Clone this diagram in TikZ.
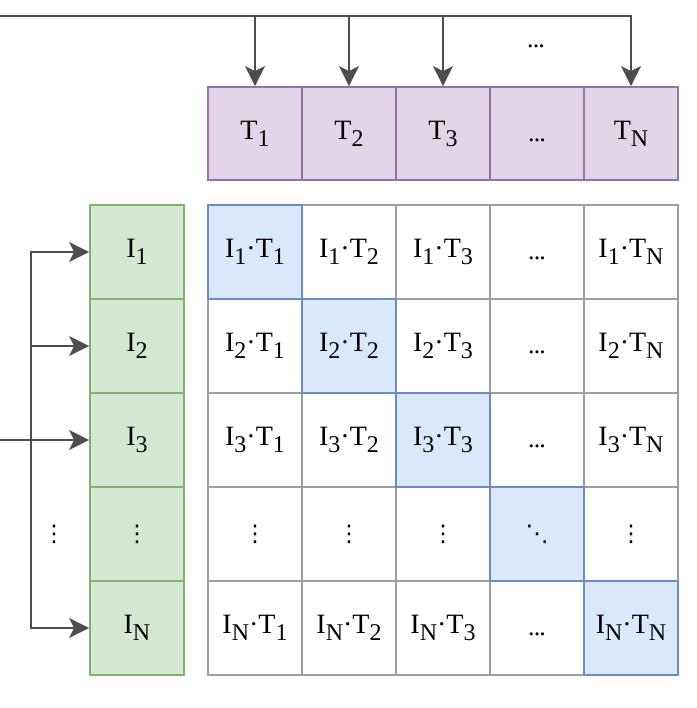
\documentclass[tikz,border=0pt]{standalone}
\usepackage{fontspec}
\setmainfont{Liberation Serif}
\newfontfamily\dotsfont{DejaVu Sans}
\usetikzlibrary{arrows.meta}
\definecolor{pfill}{HTML}{E1D5E7}
\definecolor{pline}{HTML}{9673A6}
\definecolor{gfill}{HTML}{D5E8D4}
\definecolor{gline}{HTML}{82B366}
\definecolor{bfill}{HTML}{DAE8FC}
\definecolor{bline}{HTML}{6C8EBF}
\definecolor{cline}{HTML}{9E9E9E}
\definecolor{aline}{HTML}{4D4D4D}
\newcommand{\sbs}[1]{\raisebox{-0.25em}{\fontsize{24}{26}\selectfont #1}}
\newcommand{\pr}[2]{I\sbs{#1}·T\sbs{#2}}
\newcommand{\threedots}{{\fontsize{26}{28}\selectfont .\kern-0.9pt.\kern-0.9pt.}}
\newcommand{\hd}{\vphantom{I\sbs{1}}\raisebox{-2pt}{\threedots}}
\newcommand{\vd}{\raisebox{2pt}{\dotsfont\fontsize{23}{24}\selectfont ⋮}}
\newcommand{\dd}{\raisebox{2pt}{\dotsfont\fontsize{23}{24}\selectfont ⋱}}
\tikzset{
  cell/.style={minimum width=94pt,minimum height=94pt,inner sep=0pt,line width=1.8pt,
    font=\fontsize{28}{30}\selectfont},
  tcell/.style={cell,draw=pline,fill=pfill,minimum height=93pt},
  icell/.style={cell,draw=gline,fill=gfill},
  mcell/.style={cell,draw=cline,fill=white},
  dcell/.style={cell,draw=bline,fill=bfill},
  arr/.style={draw=aline,line width=2pt,-{Stealth[length=20pt,width=20pt,inset=5pt]}},
  lbl/.style={inner sep=0pt,font=\fontsize{28}{30}\selectfont}
}
\begin{document}
\begin{tikzpicture}[x=1pt,y=-1pt]
\useasboundingbox (0,0) rectangle (696,708);
% T row
\node[tcell] (T1) at (255,133.5) {T\sbs{1}};
\node[tcell] (T2) at (349,133.5) {T\sbs{2}};
\node[tcell] (T3) at (443,133.5) {T\sbs{3}};
\node[tcell] (T4) at (537,133.5) {\hd};
\node[tcell] (TN) at (631,133.5) {T\sbs{N}};
% I column
\node[icell] (I1) at (137,252) {I\sbs{1}};
\node[icell] (I2) at (137,346) {I\sbs{2}};
\node[icell] (I3) at (137,440) {I\sbs{3}};
\node[icell] (I4) at (137,534) {\vd};
\node[icell] (IN) at (137,628) {I\sbs{N}};
% matrix: white cells first
\node[mcell] (m12) at (349,252) {\pr{1}{2}};
\node[mcell] (m13) at (443,252) {\pr{1}{3}};
\node[mcell] (m14) at (537,252) {\hd};
\node[mcell] (m1N) at (631,252) {\pr{1}{N}};
\node[mcell] (m21) at (255,346) {\pr{2}{1}};
\node[mcell] (m23) at (443,346) {\pr{2}{3}};
\node[mcell] (m24) at (537,346) {\hd};
\node[mcell] (m2N) at (631,346) {\pr{2}{N}};
\node[mcell] (m31) at (255,440) {\pr{3}{1}};
\node[mcell] (m32) at (349,440) {\pr{3}{2}};
\node[mcell] (m34) at (537,440) {\hd};
\node[mcell] (m3N) at (631,440) {\pr{3}{N}};
\node[mcell] (m41) at (255,534) {\vd};
\node[mcell] (m42) at (349,534) {\vd};
\node[mcell] (m43) at (443,534) {\vd};
\node[mcell] (m4N) at (631,534) {\vd};
\node[mcell] (mN1) at (255,628) {\pr{N}{1}};
\node[mcell] (mN2) at (349,628) {\pr{N}{2}};
\node[mcell] (mN3) at (443,628) {\pr{N}{3}};
\node[mcell] (mN4) at (537,628) {\hd};
% diagonal
\node[dcell] (m11) at (255,252) {\pr{1}{1}};
\node[dcell] (m22) at (349,346) {\pr{2}{2}};
\node[dcell] (m33) at (443,440) {\pr{3}{3}};
\node[dcell] (m44) at (537,534) {\dd};
\node[dcell] (mNN) at (631,628) {\pr{N}{N}};
% labels
\node[lbl] (tdots) at (536,46.5) {\threedots};
\node[lbl] (idots) at (54,534) {\vd};
% top connectors
\coordinate (tsrc) at (0,16);
\draw[arr] (tsrc) -| (T1.north);
\draw[arr] (tsrc) -| (T2.north);
\draw[arr] (tsrc) -| (T3.north);
\draw[arr] (tsrc) -| (TN.north);
% left connectors
\coordinate (lsrc) at (0,440);
\coordinate (lbus) at (31,440);
\draw[arr] (lsrc) -- (I3.west);
\draw[arr] (lbus) |- (I1.west);
\draw[arr] (lbus) |- (I2.west);
\draw[arr] (lbus) |- (IN.west);
\end{tikzpicture}
\end{document}
